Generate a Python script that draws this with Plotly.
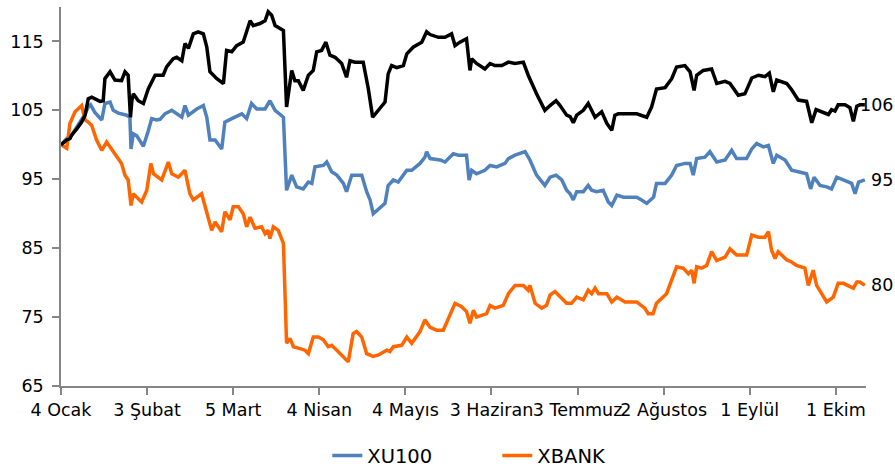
import pandas as pd
import plotly.graph_objects as go

start = pd.Timestamp("2021-01-04")

# Black series (unlabelled), days since 4 Ocak
black_days = [0, 2.0, 3.1, 3.7, 5.5, 7.2, 8.4, 9.5, 10.7, 13.6, 14.7, 15.3, 17.1, 18.8, 21.1, 22.3, 23.4, 24.2, 24.7,
              25.2, 26.9, 28.7, 30.4, 32.2, 32.8, 35.6, 36.8, 39.1, 40.3, 42.1, 43.2, 44.4, 46.1, 47.8, 49.6, 50.8,
              51.9, 54.3, 56.6, 57.7, 59.5, 61.2, 63.5, 65.9, 67.0, 69.3, 71.1, 72.2, 73.4, 74.6, 77.5, 78.6, 80.4,
              81.5, 82.7, 84.4, 86.2, 87.9, 89.1, 90.8, 92.3, 93.7, 95.5, 97.8, 99.5, 100.7, 102.4, 105.3, 107.1,
              108.6, 110.6, 112.9, 114.0, 115.2, 117.0, 119.3, 120.5, 122.8, 125.7, 127.4, 128.6, 131.5, 133.8,
              136.1, 137.3, 139.0, 141.3, 142.5, 143.1, 144.8, 147.7, 149.5, 151.2, 153.6, 155.9, 158.2, 161.1,
              162.8, 165.7, 168.6, 170.4, 172.5, 173.9, 176.2, 177.4, 178.5, 179.7, 182.0, 183.7, 184.9, 186.1,
              188.4, 190.2, 191.9, 193.0, 194.2, 200.6, 204.1, 205.8, 207.5, 210.5, 212.8, 214.5, 217.4, 219.2,
              220.6, 221.5, 223.8, 226.7, 228.5, 231.4, 233.1, 236.0, 238.3, 240.7, 243.0, 245.3, 246.8, 248.2,
              249.4, 252.9, 254.6, 256.9, 259.8, 261.6, 263.1, 265.6, 267.4, 268.5, 269.7, 270.8, 273.2, 274.9,
              276.1, 277.3, 278.4, 280.1]
black_vals = [100.0, 100.7, 100.9, 101.4, 102.3, 103.3, 104.3, 106.7, 106.9, 106.3, 106.4, 109.6, 110.6, 109.4,
              109.3, 110.6, 110.1, 104.0, 106.4, 107.4, 106.4, 106.0, 108.1, 109.6, 110.1, 110.1, 111.3, 112.5,
              112.7, 112.2, 114.7, 114.0, 116.1, 116.4, 116.1, 114.2, 110.6, 109.6, 108.9, 113.7, 113.5, 114.4,
              114.9, 118.0, 117.3, 117.6, 118.0, 119.3, 118.8, 117.3, 116.6, 105.5, 110.8, 109.3, 109.3, 107.9,
              110.1, 110.8, 113.5, 113.7, 114.9, 113.0, 112.7, 111.8, 109.8, 112.2, 112.0, 112.0, 108.1, 104.0,
              105.0, 106.2, 110.3, 111.5, 111.2, 111.5, 113.2, 114.2, 114.9, 116.4, 116.0, 115.6, 115.6, 116.1,
              114.4, 114.9, 115.4, 110.8, 112.5, 111.8, 111.0, 111.8, 111.5, 111.5, 112.0, 111.8, 112.0, 110.1,
              107.4, 105.0, 105.7, 106.4, 105.7, 104.3, 104.1, 103.2, 104.3, 105.0, 106.0, 105.0, 104.0, 104.8,
              103.1, 102.1, 104.3, 104.5, 104.5, 104.0, 105.5, 108.1, 108.3, 109.6, 111.3, 111.5, 110.6, 107.9,
              110.1, 110.8, 111.0, 108.9, 109.2, 108.9, 107.2, 107.4, 109.7, 110.1, 109.9, 110.4, 107.7, 109.4,
              108.9, 108.0, 106.5, 106.3, 103.2, 105.1, 104.7, 104.4, 105.1, 104.9, 105.8, 105.8, 105.4, 103.4,
              105.6, 105.8, 105.8]

# XU100
xu_days = [0, 2.0, 3.7, 5.5, 7.2, 8.4, 9.5, 10.3, 11.8, 14.2, 15.3, 17.1, 18.2, 20.0, 22.9, 24.0, 24.4, 25.2,
           26.4, 28.7, 30.4, 31.6, 33.3, 34.5, 36.2, 38.6, 42.1, 43.2, 44.4, 47.3, 49.6, 50.8, 51.9, 53.7, 56.0,
           57.1, 59.5, 63.0, 64.7, 66.4, 68.2, 71.1, 72.8, 74.6, 77.5, 78.6, 80.4, 82.1, 84.4, 86.2, 87.4, 88.5,
           91.4, 92.6, 94.3, 96.1, 98.4, 99.5, 101.3, 104.8, 106.5, 107.7, 108.8, 111.1, 112.9, 114.0, 115.8,
           117.5, 118.7, 120.5, 122.2, 125.1, 126.8, 127.4, 128.6, 132.1, 133.8, 136.7, 138.5, 141.3, 142.2,
           143.1, 144.8, 147.7, 149.5, 151.8, 154.7, 155.9, 158.2, 161.7, 163.4, 165.7, 168.6, 170.4, 172.5,
           174.5, 176.2, 177.4, 178.5, 179.7, 182.0, 183.7, 184.9, 186.6, 188.9, 190.7, 191.9, 193.7, 196.0,
           200.6, 202.3, 204.1, 206.5, 207.5, 210.5, 212.8, 214.5, 217.4, 219.2, 220.3, 221.5, 224.4, 226.1,
           228.5, 231.4, 233.7, 235.4, 238.9, 240.7, 242.4, 244.7, 246.5, 248.2, 249.4, 252.3, 254.6, 256.9,
           259.8, 261.2, 262.4, 264.5, 266.8, 268.5, 270.3, 272.6, 275.5, 276.7, 277.9, 280.1]
xu_vals = [100.0, 100.9, 101.4, 102.5, 103.6, 104.5, 105.5, 105.8, 104.7, 103.6, 106.0, 106.2, 105.0, 104.6,
           104.3, 104.0, 99.4, 101.6, 101.3, 99.8, 102.0, 103.8, 103.6, 103.7, 104.5, 105.0, 104.0, 105.7, 104.3,
           105.2, 105.7, 104.0, 100.7, 100.7, 99.4, 103.3, 103.8, 104.5, 103.8, 106.0, 105.2, 105.2, 106.4, 105.0,
           104.0, 93.4, 95.6, 93.9, 93.6, 94.6, 94.4, 96.8, 97.0, 97.5, 96.1, 95.6, 94.4, 93.2, 95.6, 95.6, 93.2,
           92.0, 90.0, 90.8, 91.5, 94.1, 94.9, 94.6, 95.3, 96.3, 96.3, 97.3, 98.2, 99.0, 98.0, 97.8, 97.5, 98.7,
           98.5, 98.5, 94.9, 96.3, 95.8, 96.3, 97.0, 96.8, 97.3, 98.0, 98.5, 99.0, 97.8, 95.6, 94.1, 95.3, 95.6,
           94.9, 93.4, 92.9, 92.0, 93.2, 93.2, 94.1, 93.4, 93.2, 93.4, 91.7, 91.2, 92.7, 92.4, 92.4, 92.0, 91.5,
           92.4, 94.4, 94.4, 95.6, 97.0, 97.3, 97.3, 95.6, 98.0, 98.2, 99.0, 97.5, 97.8, 99.2, 98.0, 98.0, 99.4,
           100.2, 99.7, 99.9, 97.3, 98.5, 97.8, 96.3, 96.1, 95.8, 93.6, 95.3, 94.1, 93.9, 93.6, 95.3, 94.9, 94.4,
           92.9, 94.6, 94.9]

# XBANK
xb_days = [0, 2.0, 3.1, 4.9, 7.2, 8.4, 9.5, 10.7, 12.4, 14.2, 15.9, 17.1, 19.4, 21.1, 22.3, 23.4, 24.4, 25.2,
           26.4, 28.1, 29.9, 31.3, 32.2, 35.1, 37.4, 38.6, 40.9, 43.2, 44.9, 46.1, 49.0, 50.2, 52.5, 53.7, 56.0,
           57.1, 58.9, 60.0, 61.8, 63.5, 64.7, 65.9, 67.6, 69.9, 71.1, 72.2, 72.8, 74.0, 75.7, 77.5, 78.0, 78.6,
           79.8, 81.0, 82.7, 85.0, 86.2, 87.9, 89.7, 91.4, 93.1, 94.3, 96.1, 98.4, 100.1, 101.8, 103.0, 104.8,
           106.5, 108.8, 110.6, 113.5, 114.6, 115.8, 118.7, 120.5, 122.2, 125.1, 126.8, 128.6, 130.9, 133.2,
           134.9, 137.3, 139.6, 141.3, 142.5, 143.7, 144.8, 148.3, 149.5, 151.2, 154.1, 155.9, 158.2, 161.1,
           162.8, 163.4, 165.2, 167.5, 169.2, 170.4, 172.1, 174.5, 176.2, 177.9, 179.7, 182.0, 183.7, 184.9,
           186.1, 187.3, 190.2, 191.9, 193.7, 196.5, 200.6, 203.4, 204.6, 206.3, 207.5, 211.0, 212.8, 214.5,
           216.8, 218.6, 219.8, 220.6, 221.5, 223.2, 225.0, 226.7, 228.5, 231.4, 233.1, 235.4, 238.9, 240.7,
           243.0, 245.3, 246.5, 247.6, 248.8, 249.9, 252.9, 254.6, 256.3, 259.2, 260.4, 262.1, 263.3, 265.1,
           266.8, 269.1, 270.8, 272.6, 274.9, 276.1, 277.3, 278.4, 280.1]
xb_vals = [100.0, 99.5, 103.1, 104.8, 105.7, 103.6, 103.3, 102.8, 100.7, 99.2, 100.4, 99.7, 98.2, 97.3, 95.6,
           94.9, 91.2, 92.9, 92.4, 91.7, 93.4, 97.3, 95.8, 94.9, 97.5, 95.8, 95.3, 96.3, 92.9, 92.0, 92.9, 91.0,
           87.6, 88.8, 87.4, 90.3, 89.1, 91.0, 91.0, 90.0, 88.1, 89.5, 87.9, 88.1, 87.1, 87.6, 86.4, 88.1, 87.6,
           85.7, 79.9, 71.2, 71.9, 70.7, 70.5, 70.2, 69.7, 72.1, 72.1, 71.7, 70.7, 70.9, 70.2, 69.3, 68.5, 72.6,
           72.9, 72.1, 69.7, 69.3, 69.5, 70.2, 70.0, 70.7, 70.9, 72.1, 71.2, 72.9, 74.6, 73.5, 73.1, 73.1, 74.8,
           77.0, 76.5, 75.8, 74.1, 76.0, 75.0, 75.5, 76.7, 76.3, 76.7, 78.4, 79.6, 79.6, 78.9, 79.6, 77.0, 76.3,
           76.7, 78.2, 78.7, 77.7, 77.0, 77.0, 77.9, 77.5, 78.9, 78.4, 79.2, 78.4, 78.4, 77.2, 77.9, 77.2, 77.2,
           76.3, 75.5, 75.5, 77.0, 78.4, 80.4, 82.3, 82.1, 81.3, 81.8, 79.9, 82.3, 82.1, 82.5, 84.5, 83.2, 83.7,
           84.9, 84.0, 84.0, 86.9, 86.6, 86.6, 87.4, 84.7, 83.5, 84.5, 83.3, 83.0, 82.5, 82.1, 79.6, 81.8, 79.6,
           78.4, 77.2, 77.9, 79.9, 79.9, 79.4, 79.2, 80.1, 80.1, 79.6]

tick_days = [0, 30, 60, 90, 120, 150, 180, 210, 240, 270]
tick_labels = ["4 Ocak", "3 Şubat", "5 Mart", "4 Nisan", "4 Mayıs", "3 Haziran",
               "3 Temmuz", "2 Ağustos", "1 Eylül", "1 Ekim"]
end_labels = ["106", "95", "80"]


def to_dates(days):
    return [start + pd.Timedelta(days=d) for d in days]


FONT = "DejaVu Sans"
fig = go.Figure()
fig.add_trace(go.Scatter(x=to_dates(xu_days), y=xu_vals, mode="lines", name="XU100",
                         line=dict(color="#4F81BD", width=3.5)))
fig.add_trace(go.Scatter(x=to_dates(xb_days), y=xb_vals, mode="lines", name="XBANK",
                         line=dict(color="#FF6600", width=3.5)))
fig.add_trace(go.Scatter(x=to_dates(black_days), y=black_vals, mode="lines", name="",
                         showlegend=False, line=dict(color="#000000", width=3.5)))

for days, vals, lab in [(black_days, black_vals, end_labels[0]),
                        (xu_days, xu_vals, end_labels[1]),
                        (xb_days, xb_vals, end_labels[2])]:
    fig.add_annotation(x=to_dates([days[-1]])[0], y=vals[-1], text=lab, showarrow=False,
                       xanchor="right", yanchor="middle", xshift=30,
                       font=dict(family=FONT, size=17.5, color="#000000"))

fig.update_layout(
    width=895, height=467,
    margin=dict(l=61, r=29, t=7, b=81),
    plot_bgcolor="white", paper_bgcolor="white",
    font=dict(family=FONT, size=17.5, color="#000000"),
    showlegend=True,
    legend=dict(orientation="h", x=0.542, xanchor="center", y=0.024, yanchor="middle",
                yref="container", font=dict(family=FONT, size=19.5), entrywidth=125),
)
fig.update_xaxes(
    type="date",
    range=[start, start + pd.Timedelta(days=280.5)],
    tickvals=to_dates(tick_days), ticktext=tick_labels, tickangle=0,
    showgrid=False, zeroline=False,
    showline=True, linecolor="#868686", linewidth=1.5,
    ticks="outside", ticklen=7, tickcolor="#868686", tickwidth=1.5,
)
fig.update_yaxes(
    range=[65, 120], tickvals=[65, 75, 85, 95, 105, 115],
    showgrid=False, zeroline=False,
    showline=True, linecolor="#868686", linewidth=1.5,
    ticks="outside", ticklen=7, tickcolor="#868686", tickwidth=1.5,
    ticklabelstandoff=5,
)

fig.write_html("out.html", config={"displayModeBar": False},
               post_script="document.body.style.margin='0';document.body.style.overflow='hidden';")
